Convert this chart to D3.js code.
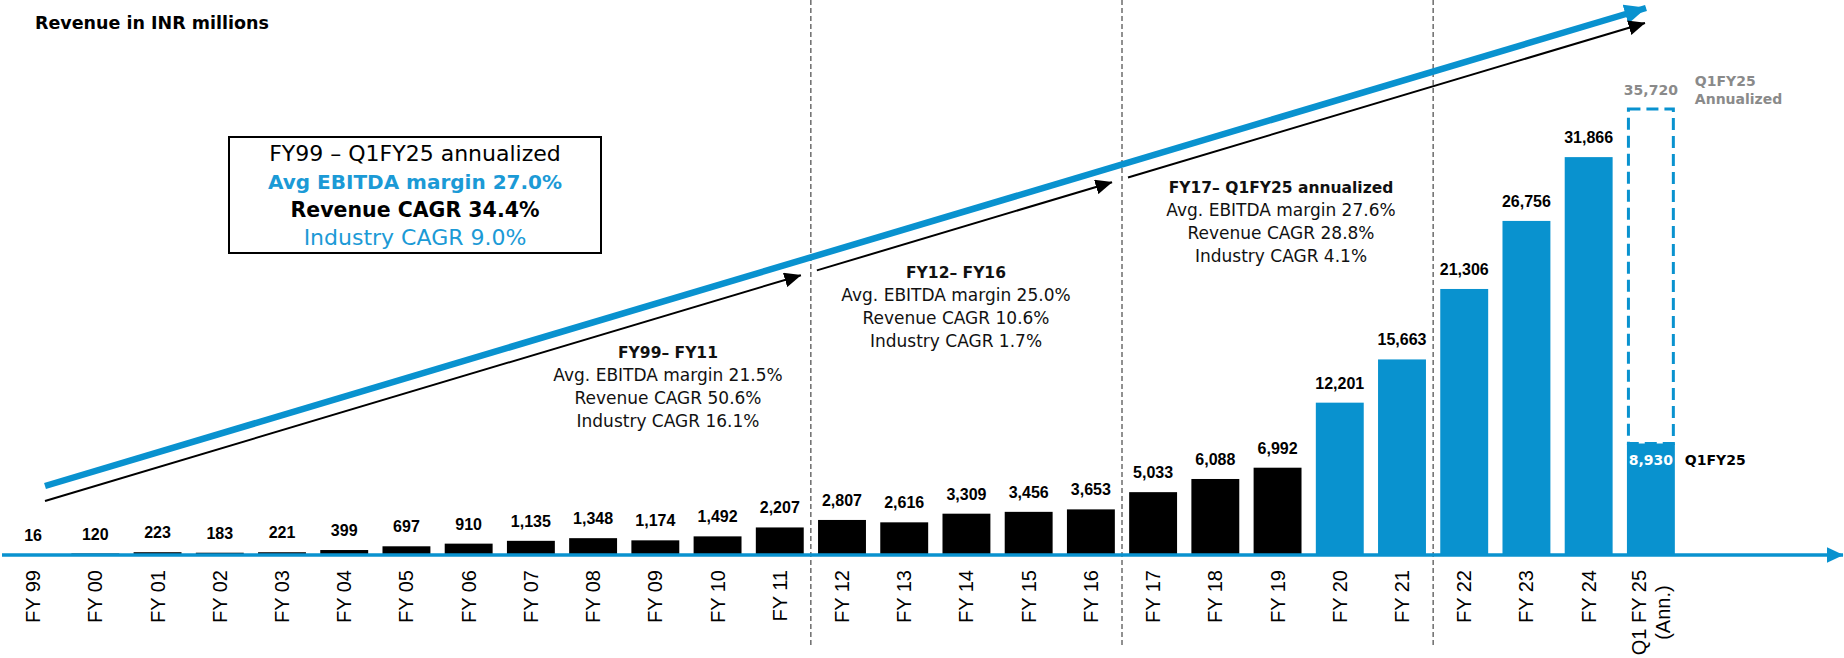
<!DOCTYPE html>
<html>
<head>
<meta charset="utf-8">
<script src="https://cdn.jsdelivr.net/npm/d3@7"></script>
<style>
  html, body { margin: 0; padding: 0; background: #fff; }
  svg { display: block; }
</style>
</head>
<body>
<svg id="chart" width="1844" height="658"></svg>
<script>
// ---------------- data ----------------
const categories = ["FY 99","FY 00","FY 01","FY 02","FY 03","FY 04","FY 05","FY 06","FY 07","FY 08","FY 09","FY 10","FY 11",
  "FY 12","FY 13","FY 14","FY 15","FY 16","FY 17","FY 18","FY 19","FY 20","FY 21","FY 22","FY 23","FY 24","Q1 FY 25\n(Ann.)"];
const revenue = [16,120,223,183,221,399,697,910,1135,1348,1174,1492,2207,
  2807,2616,3309,3456,3653,5033,6088,6992,12201,15663,21306,26756,31866,8930];
const annualizedValue = 35720;
const blueFrom = "FY 20";
const dividerBefore = ["FY 12","FY 17","FY 22"];

const boxLines = ["FY99 – Q1FY25 annualized","Avg EBITDA margin 27.0%","Revenue CAGR 34.4%","Industry CAGR 9.0%"];
const periodTitles = ["FY99– FY11","FY12– FY16","FY17– Q1FY25 annualized"];
const periodEbitda = ["Avg. EBITDA margin 21.5%","Avg. EBITDA margin 25.0%","Avg. EBITDA margin 27.6%"];
const periodRevCagr = ["Revenue CAGR 50.6%","Revenue CAGR 10.6%","Revenue CAGR 28.8%"];
const periodIndCagr = ["Industry CAGR 16.1%","Industry CAGR 1.7%","Industry CAGR 4.1%"];

// ---------------- styles ----------------
const BLUE = "#0992cf";
const GREY = "#8a8a8a";
const GOTHIC = "'Century Gothic', 'DejaVu Sans', sans-serif";
const ARIAL = "'Liberation Sans', Arial, sans-serif";

const svg = d3.select("#chart");
const baseY = 555;

const x = d3.scaleBand().domain(categories).range([2, 1682]).paddingInner(0.23).paddingOuter(0.115);
const y = d3.scaleLinear().domain([0, annualizedValue]).range([baseY, 109]);
const fmt = d3.format(",");
const cx = d => x(d) + x.bandwidth() / 2;
const blueIdx = categories.indexOf(blueFrom);

// markers
const defs = svg.append("defs");
function marker(id, color, len, half) {
  defs.append("marker").attr("id", id).attr("markerUnits", "userSpaceOnUse")
    .attr("viewBox", `0 ${-half} ${len} ${2*half}`).attr("refX", len - 0.5).attr("refY", 0)
    .attr("markerWidth", len).attr("markerHeight", 2*half).attr("orient", "auto")
    .append("path").attr("d", `M0,${-half}L${len},0L0,${half}Z`).attr("fill", color);
}
marker("headBlue", BLUE, 22, 10);
marker("headBlack", "#000", 17, 7.5);
marker("headAxis", BLUE, 17, 8);

// title
svg.append("text").attr("x", 35).attr("y", 29).attr("font-family", GOTHIC).attr("font-weight", "bold")
  .attr("font-size", 17.5).attr("fill", "#000").text("Revenue in INR millions");

// divider positions
const dividerX = d => x(d) - x.step() * x.paddingInner() / 2;
svg.append("g").selectAll("line").data(dividerBefore).join("line")
  .attr("x1", dividerX).attr("x2", dividerX).attr("y1", 0).attr("y2", 648)
  .attr("stroke", "#222").attr("stroke-width", 1).attr("stroke-dasharray", "5,3");

// bars
svg.append("g").selectAll("rect").data(categories).join("rect")
  .attr("x", d => x(d)).attr("width", x.bandwidth())
  .attr("y", (d, i) => y(revenue[i])).attr("height", (d, i) => baseY - y(revenue[i]))
  .attr("fill", (d, i) => i >= blueIdx ? BLUE : "#000");

// annualized dashed bar
const lastCat = categories[categories.length - 1];
const lastVal = revenue[revenue.length - 1];
svg.append("rect").attr("x", x(lastCat) + 1.5).attr("width", x.bandwidth() - 3)
  .attr("y", y(annualizedValue)).attr("height", y(lastVal) - y(annualizedValue))
  .attr("fill", "none").attr("stroke", BLUE).attr("stroke-width", 3).attr("stroke-dasharray", "12,6");

// value labels
svg.append("g").selectAll("text").data(categories.slice(0, -1)).join("text")
  .attr("x", cx).attr("y", (d, i) => y(revenue[i]) - 14)
  .attr("text-anchor", "middle").attr("font-family", ARIAL).attr("font-weight", "bold")
  .attr("font-size", 16).attr("fill", "#000").text((d, i) => fmt(revenue[i]));

svg.append("text").attr("x", cx(lastCat)).attr("y", y(lastVal) + 21).attr("text-anchor", "middle")
  .attr("font-family", GOTHIC).attr("font-weight", "bold").attr("font-size", 14).attr("fill", "#fff")
  .text(fmt(lastVal));
svg.append("text").attr("x", x(lastCat) + x.bandwidth() + 10).attr("y", y(lastVal) + 21)
  .attr("font-family", GOTHIC).attr("font-weight", "bold").attr("font-size", 14).attr("fill", "#000")
  .text("Q1FY25");
svg.append("text").attr("x", cx(lastCat)).attr("y", y(annualizedValue) - 14).attr("text-anchor", "middle")
  .attr("font-family", GOTHIC).attr("font-weight", "bold").attr("font-size", 14).attr("fill", GREY)
  .text(fmt(annualizedValue));
svg.append("text").attr("x", x(lastCat) + x.bandwidth() + 20).attr("y", y(annualizedValue) - 23)
  .attr("font-family", GOTHIC).attr("font-weight", "bold").attr("font-size", 14).attr("fill", GREY)
  .selectAll("tspan").data(["Q1FY25", "Annualized"]).join("tspan")
  .attr("x", x(lastCat) + x.bandwidth() + 20).attr("dy", (d, i) => i ? 18 : 0).text(d => d);

// x axis
const axis = d3.axisBottom(x).tickSize(0).tickFormat("");
const gAxis = svg.append("g").attr("transform", `translate(0,${baseY})`).call(axis);
gAxis.select(".domain").remove();
gAxis.selectAll(".tick").each(function(d) {
  const lines = d.split("\n");
  const g = d3.select(this);
  const t0 = g.append("text").attr("transform", "rotate(-90)").attr("x", -15)
    .attr("y", lines.length > 1 ? -12 : 0).attr("dy", "0.35em")
    .attr("text-anchor", "end").attr("font-family", ARIAL).attr("font-size", 20).attr("fill", "#000")
    .text(lines[0]);
  if (lines.length > 1) {
    const len = t0.node().getComputedTextLength();
    g.append("text").attr("transform", "rotate(-90)").attr("x", -15 - len / 2)
      .attr("y", 12).attr("dy", "0.35em").attr("text-anchor", "middle")
      .attr("font-family", ARIAL).attr("font-size", 20).attr("fill", "#000").text(lines[1]);
  }
});
svg.append("line").attr("x1", 2).attr("x2", 1843).attr("y1", baseY).attr("y2", baseY)
  .attr("stroke", BLUE).attr("stroke-width", 3.5).attr("marker-end", "url(#headAxis)");

// trend arrows (annotation)
const blueStart = [45, 486], blueEnd = [1646, 8];
svg.append("line").attr("x1", blueStart[0]).attr("y1", blueStart[1]).attr("x2", blueEnd[0]).attr("y2", blueEnd[1])
  .attr("stroke", BLUE).attr("stroke-width", 6.5).attr("marker-end", "url(#headBlue)");

const blackStart = [45, 501], blackEnd = [1645, 23];
const blackY = xx => blackStart[1] + (blackEnd[1] - blackStart[1]) * (xx - blackStart[0]) / (blackEnd[0] - blackStart[0]);
const segBreaks = [blackStart[0], ...dividerBefore.slice(0, 2).map(dividerX), blackEnd[0]];
for (let i = 0; i < segBreaks.length - 1; i++) {
  const xa = i === 0 ? segBreaks[i] : segBreaks[i] + 6;
  const xb = i === segBreaks.length - 2 ? segBreaks[i + 1] : segBreaks[i + 1] - 10;
  svg.append("line").attr("x1", xa).attr("y1", blackY(xa)).attr("x2", xb).attr("y2", blackY(xb))
    .attr("stroke", "#000").attr("stroke-width", 2).attr("marker-end", "url(#headBlack)");
}

// summary box
const box = {x: 229, y: 137, w: 372, h: 116};
svg.append("rect").attr("x", box.x).attr("y", box.y).attr("width", box.w).attr("height", box.h)
  .attr("fill", "#fff").attr("stroke", "#000").attr("stroke-width", 2);
const boxStyles = [
  {fill: "#000", weight: "normal", size: 22}, {fill: "#1b9ad6", weight: "bold", size: 20},
  {fill: "#000", weight: "bold", size: 20.5}, {fill: "#1b9ad6", weight: "normal", size: 22}];
svg.append("g").selectAll("text").data(boxLines).join("text")
  .attr("x", box.x + box.w / 2).attr("y", (d, i) => box.y + 24 + i * 28)
  .attr("text-anchor", "middle").attr("font-family", GOTHIC)
  .attr("font-size", (d, i) => boxStyles[i].size)
  .attr("font-weight", (d, i) => boxStyles[i].weight).attr("fill", (d, i) => boxStyles[i].fill)
  .text(d => d);

// period annotations
const periodAnchors = [{cx: 668, y: 358}, {cx: 956, y: 278}, {cx: 1281, y: 193}];
periodTitles.forEach((t, k) => {
  const lines = [t, periodEbitda[k], periodRevCagr[k], periodIndCagr[k]];
  svg.append("g").selectAll("text").data(lines).join("text")
    .attr("x", periodAnchors[k].cx).attr("y", (d, i) => periodAnchors[k].y + i * 23)
    .attr("text-anchor", "middle").attr("font-family", GOTHIC)
    .attr("font-size", (d, i) => i === 0 ? 15.5 : 17)
    .attr("font-weight", (d, i) => i === 0 ? "bold" : "normal").attr("fill", "#111")
    .text(d => d);
});
</script>
</body>
</html>
